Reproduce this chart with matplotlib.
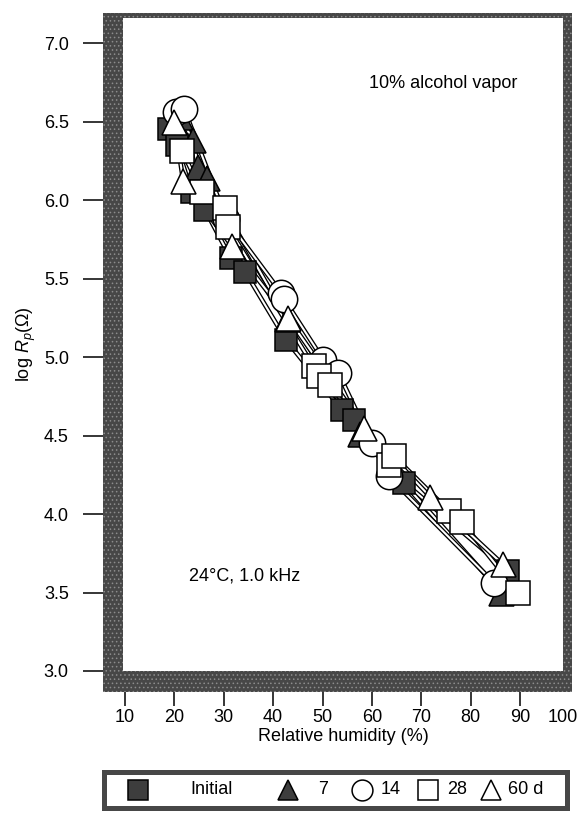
import matplotlib
matplotlib.use("Agg")
import matplotlib.pyplot as plt
from matplotlib import patheffects
from matplotlib.patches import Rectangle

plt.rcParams['font.family'] = ['Liberation Sans', 'DejaVu Sans']
plt.rcParams['mathtext.fontset'] = 'custom'
plt.rcParams['mathtext.rm'] = 'Liberation Sans'
plt.rcParams['mathtext.it'] = 'Liberation Sans:italic'
plt.rcParams['hatch.linewidth'] = 0.6

# data (RH %, log Rp)
rh_initial = [19.0, 20.5, 23.5, 26.2, 31.4, 34.4, 42.6, 54.0, 56.4, 66.6, 87.5]
lr_initial = [6.45, 6.35, 6.05, 5.94, 5.63, 5.54, 5.11, 4.66, 4.60, 4.20, 3.64]

rh_7 = [21.2, 23.8, 24.8, 26.6, 42.8, 57.6, 86.2]
lr_7 = [6.53, 6.38, 6.21, 6.14, 5.24, 4.51, 3.50]

rh_14 = [20.4, 22.0, 30.5, 41.6, 42.2, 50.2, 53.2, 60.0, 63.4, 84.8]
lr_14 = [6.56, 6.58, 5.88, 5.41, 5.37, 4.98, 4.90, 4.45, 4.24, 3.56]

rh_28 = [21.6, 25.6, 30.2, 30.8, 48.2, 49.2, 51.6, 63.4, 64.4, 75.6, 78.2, 89.6]
lr_28 = [6.31, 6.05, 5.95, 5.83, 4.94, 4.88, 4.82, 4.31, 4.37, 4.02, 3.95, 3.50]

rh_60 = [20.0, 21.8, 31.6, 43.0, 58.5, 71.8, 86.5]
lr_60 = [6.50, 6.12, 5.71, 5.25, 4.55, 4.11, 3.68]

legend_labels = ['Initial', '7', '14', '28', '60 d']
x_ticks = [10, 20, 30, 40, 50, 60, 70, 80, 90]
y_ticks = [3.0, 3.5, 4.0, 4.5, 5.0, 5.5, 6.0, 6.5, 7.0]

W, H = 582, 818
fig = plt.figure(figsize=(W / 100, H / 100), dpi=100)
FRAME = '#474747'
DARK = '#3d3d3d'
FS = 13


def fbox(x0, y0, x1, y1):
    # pixel box (top-left origin) -> figure fraction [l, b, w, h]
    return [x0 / W, (H - y1) / H, (x1 - x0) / W, (y1 - y0) / H]


ax = fig.add_axes(fbox(123, 18, 563, 671))
ax.set_xlim(9.6, 98.7)
ax.set_ylim(3.0, 7.16)
for s in ax.spines.values():
    s.set_visible(False)

XLEN, XPAD = 25, 2
ax.set_xticks(x_ticks)
ax.set_xticklabels([str(t) for t in x_ticks])
ax.set_yticks(y_ticks)
ax.set_yticklabels(['%.1f' % t for t in y_ticks])
ax.tick_params(axis='y', direction='out', length=29, width=1.1, pad=10, labelsize=FS)
ax.tick_params(axis='x', direction='out', length=XLEN, width=1.1, pad=XPAD, labelsize=FS)
# the "100" label sits just past the right edge of the frame
ax.annotate('100', xy=(100, 0), xycoords=('data', 'axes fraction'),
            xytext=(-5, -(XLEN + XPAD)), textcoords='offset points',
            ha='center', va='top', fontsize=FS, annotation_clip=False)

ax.set_xlabel('Relative humidity (%)', fontsize=FS, labelpad=2)
ax.set_ylabel(r'log $R_p$($\Omega$)', fontsize=FS, labelpad=4)

pe = [patheffects.Stroke(linewidth=3.4, foreground='black'), patheffects.Normal()]
series = [
    (rh_initial, lr_initial, 's', 16, DARK),
    (rh_7, lr_7, '^', 18, DARK),
    (rh_14, lr_14, 'o', 19, 'white'),
    (rh_28, lr_28, 's', 17, 'white'),
    (rh_60, lr_60, '^', 18, 'white'),
]
for x, y, m, ms, fc in series:
    ax.plot(x, y, color='white', lw=1.5, path_effects=pe, zorder=2)
for i, (x, y, m, ms, fc) in enumerate(series):
    ax.plot(x, y, ls='none', marker=m, ms=ms, mfc=fc, mec='black', mew=1.1, zorder=3 + i * 0.1)

ax.text(0.56, 0.9, '10% alcohol vapor', transform=ax.transAxes, fontsize=FS, va='center')
ax.text(0.15, 0.145, '24\u00b0C, 1.0 kHz', transform=ax.transAxes, fontsize=FS, va='center')

# thick speckled frame of the scan
for b in [(103, 13, 123, 692), (103, 671, 572, 692), (103, 13, 572, 18), (563, 13, 572, 692)]:
    l, bt, w, h = fbox(*b)
    fig.patches.append(Rectangle((l, bt), w, h, transform=fig.transFigure,
                                 facecolor=FRAME, edgecolor='#8c8c8c', lw=0,
                                 hatch='....', zorder=5))

# legend box
lax = fig.add_axes(fbox(104, 772, 567, 808))
lax.set_xlim(104, 567)
lax.set_ylim(0, 1)
lax.set_xticks([])
lax.set_yticks([])
for s in lax.spines.values():
    s.set_linewidth(3.6)
    s.set_color(FRAME)
leg_marker_x = [138, 288, 362, 428, 491]
leg_text_x = [190, 318, 381, 447, 508]
for (x, y, m, ms, fc), mx, tx, lab in zip(series, leg_marker_x, leg_text_x, legend_labels):
    lax.plot([mx], [0.5], ls='none', marker=m, ms=15, mfc=fc, mec='black', mew=1.1)
    lax.text(tx, 0.5, lab, fontsize=FS, va='center', ha='left')

fig.savefig('out.png', dpi=100)
